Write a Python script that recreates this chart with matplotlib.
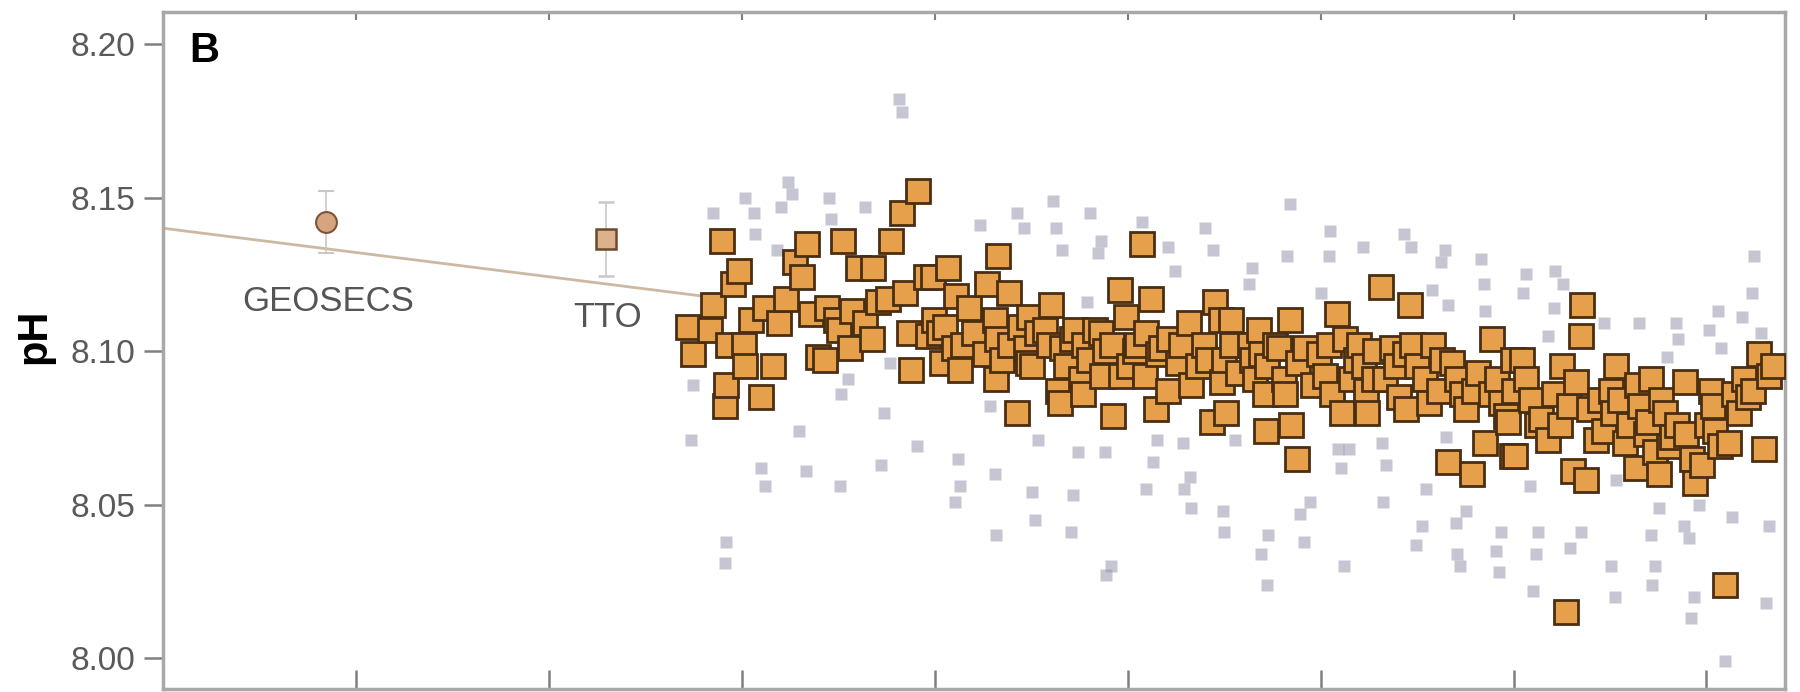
import matplotlib
matplotlib.use("Agg")
import matplotlib.pyplot as plt

# 字体：窄体无衬线
plt.rcParams["font.family"] = ["Liberation Sans Narrow", "Liberation Sans", "DejaVu Sans"]

# BATS pH (orange squares)
bats_t = [
    1990.89, 1990.98, 1991.34, 1991.41, 1991.58, 1991.65, 1991.67, 1991.72, 1991.82, 1991.94,
    1992.05, 1992.07, 1992.20, 1992.39, 1992.48, 1992.65, 1992.77, 1992.91, 1993.10, 1993.25,
    1993.36, 1993.44, 1993.58, 1993.72, 1993.77, 1993.96, 1994.01, 1994.10, 1994.25, 1994.29,
    1994.41, 1994.55, 1994.70, 1994.72, 1994.82, 1995.03, 1995.10, 1995.32, 1995.39, 1995.46,
    1995.51, 1995.65, 1995.82, 1995.86, 1995.98, 1995.96, 1996.08, 1996.15, 1996.22, 1996.27,
    1996.39, 1996.44, 1996.53, 1996.58, 1996.70, 1996.82, 1997.05, 1997.08, 1997.24, 1997.26,
    1997.29, 1997.32, 1997.39, 1997.53, 1997.55, 1997.70, 1997.77, 1997.89, 1997.94, 1997.96,
    1998.01, 1998.13, 1998.29, 1998.36, 1998.41, 1998.56, 1998.60, 1998.63, 1998.72, 1998.84,
    1998.91, 1999.03, 1999.08, 1999.10, 1999.20, 1999.32, 1999.44, 1999.46, 1999.53, 1999.67,
    1999.70, 1999.84, 1999.87, 1999.96, 2000.03, 2000.15, 2000.20, 2000.29, 2000.36, 2000.38,
    2000.48, 2000.58, 2000.63, 2000.70, 2000.84, 2000.86, 2001.05, 2001.10, 2001.27, 2001.32,
    2001.46, 2001.58, 2001.67, 2001.75, 2001.82, 2001.94, 2001.96, 2001.99, 2002.03, 2002.15,
    2002.17, 2002.29, 2002.53, 2002.58, 2002.65, 2002.72, 2002.77, 2002.84, 2002.86, 2002.89,
    2003.05, 2003.13, 2003.25, 2003.27, 2003.37, 2003.39, 2003.51, 2003.53, 2003.67, 2003.84,
    2003.96, 2004.10, 2004.18, 2004.23, 2004.34, 2004.44, 2004.51, 2004.63, 2004.73, 2004.80,
    2004.91, 2004.94, 2004.96, 2005.10, 2005.13, 2005.25, 2005.34, 2005.48, 2005.56, 2005.63,
    2005.75, 2005.77, 2005.86, 2005.89, 2005.99, 2006.17, 2006.25, 2006.34, 2006.46, 2006.51,
    2006.65, 2006.72, 2006.82, 2006.94, 2007.01, 2007.13, 2007.18, 2007.27, 2007.41, 2007.53,
    2007.56, 2007.65, 2007.75, 2007.84, 2007.89, 2007.96, 2007.98, 2008.01, 2008.04, 2008.18,
    2008.25, 2008.37, 2008.48, 2008.58, 2008.72, 2008.84, 2008.96, 2009.01, 2009.08, 2009.15,
    2009.23, 2009.30, 2009.39, 2009.42, 2009.51, 2009.56, 2009.70, 2009.79, 2009.87, 2010.03,
    2010.06, 2010.13, 2010.20, 2010.32, 2010.39, 2010.53, 2010.55, 2010.63, 2010.75, 2010.79,
    2010.86, 2010.94, 2011.01, 2011.05, 2011.15, 2011.22, 2011.29, 2011.39, 2011.56, 2011.58,
    2011.70, 2011.77, 2011.91, 2012.01, 2012.10, 2012.13, 2012.17, 2012.29, 2012.39, 2012.46,
    2012.58, 2012.67, 2012.77, 2012.86, 2012.96, 2013.08, 2013.20, 2013.29, 2013.37,
]
bats_ph = [
    8.108, 8.099, 8.107, 8.115, 8.136, 8.082, 8.089, 8.102, 8.122, 8.126,
    8.102, 8.095, 8.110, 8.085, 8.114, 8.095, 8.109, 8.117, 8.129, 8.124,
    8.135, 8.112, 8.098, 8.097, 8.114, 8.110, 8.107, 8.136, 8.101, 8.113,
    8.127, 8.109, 8.104, 8.127, 8.116, 8.117, 8.136, 8.145, 8.119, 8.106,
    8.094, 8.152, 8.124, 8.105, 8.110, 8.124, 8.106, 8.096, 8.108, 8.127,
    8.101, 8.118, 8.094, 8.102, 8.114, 8.106, 8.099, 8.122, 8.110, 8.091,
    8.104, 8.131, 8.097, 8.119, 8.102, 8.080, 8.108, 8.101, 8.096, 8.111,
    8.095, 8.106, 8.107, 8.102, 8.115, 8.087, 8.083, 8.101, 8.095, 8.104,
    8.107, 8.091, 8.086, 8.102, 8.097, 8.107, 8.106, 8.092, 8.100, 8.102,
    8.079, 8.120, 8.092, 8.111, 8.095, 8.100, 8.102, 8.135, 8.092, 8.106,
    8.117, 8.081, 8.099, 8.101, 8.087, 8.104, 8.096, 8.102, 8.109, 8.089,
    8.095, 8.102, 8.097, 8.077, 8.116, 8.110, 8.090, 8.097, 8.080, 8.110,
    8.102, 8.093, 8.102, 8.097, 8.091, 8.107, 8.099, 8.086, 8.074, 8.095,
    8.102, 8.101, 8.091, 8.086, 8.110, 8.076, 8.065, 8.096, 8.101, 8.089,
    8.099, 8.092, 8.102, 8.086, 8.112, 8.080, 8.104, 8.091, 8.097, 8.102,
    8.095, 8.087, 8.080, 8.091, 8.100, 8.121, 8.091, 8.101, 8.095, 8.085,
    8.099, 8.081, 8.115, 8.102, 8.095, 8.091, 8.083, 8.102, 8.087, 8.097,
    8.064, 8.096, 8.091, 8.086, 8.081, 8.060, 8.087, 8.093, 8.070, 8.086,
    8.104, 8.091, 8.083, 8.079, 8.077, 8.066, 8.097, 8.087, 8.066, 8.097,
    8.091, 8.084, 8.076, 8.078, 8.071, 8.086, 8.076, 8.095, 8.015, 8.082,
    8.061, 8.090, 8.105, 8.115, 8.058, 8.081, 8.071, 8.084, 8.074, 8.087,
    8.080, 8.095, 8.084, 8.070, 8.076, 8.062, 8.089, 8.082, 8.073, 8.077,
    8.091, 8.067, 8.060, 8.084, 8.080, 8.069, 8.072, 8.076, 8.090, 8.073,
    8.065, 8.057, 8.063, 8.076, 8.087, 8.082, 8.074, 8.069, 8.024, 8.070,
    8.086, 8.080, 8.091, 8.085, 8.087, 8.099, 8.068, 8.092, 8.095,
]

# other cruise data (faint grey points)
other_t = [
    1995.25, 1995.32, 1992.96, 1993.04, 1992.06, 1992.25, 1992.27, 1992.82, 1993.80, 1993.84,
    1994.56, 1991.41, 1992.72, 1990.99, 1990.94, 1993.18, 1992.39, 1992.49, 1993.32, 1994.04,
    1994.89, 1994.94, 1995.63, 1994.20, 1994.06, 1991.68, 1991.65, 1995.08,
    1998.46, 1997.70, 1996.94, 1997.84, 1998.51, 1999.22, 1999.44, 1998.63, 1999.39, 2000.29,
    2000.84, 2000.98, 2001.60, 2001.77, 1999.15, 1997.15, 1998.15, 1996.48, 1997.25, 1996.53,
    1996.41, 1998.01, 1998.87, 1998.98, 1999.53, 1998.08, 1997.27, 1998.82, 1999.65, 1999.56,
    2000.39, 2000.60, 2000.53, 2001.15, 2001.29, 2001.32, 2001.98, 2002.00, 2001.17,
    2003.37, 2004.20, 2004.18, 2003.30, 2002.58, 2004.87, 2005.73, 2005.87, 2006.58, 2006.49,
    2007.32, 2007.39, 2006.65, 2006.30, 2007.41, 2002.51, 2004.01, 2002.22, 2004.37, 2004.58,
    2004.42, 2005.27, 2005.36, 2005.29, 2003.79, 2003.58, 2003.65, 2002.91, 2002.77, 2002.89,
    2004.48, 2006.18, 2006.10, 2005.98, 2007.01, 2006.80, 2006.82, 2006.89, 2007.75, 2007.63,
    2007.70, 2006.61,
    2012.99, 2012.94, 2012.23, 2012.73, 2013.13, 2012.06, 2011.37, 2011.42, 2011.18, 2010.60,
    2012.30, 2009.87, 2008.25, 2008.20, 2008.87, 2009.03, 2008.84, 2008.72, 2008.34, 2008.51,
    2008.46, 2009.39, 2009.17, 2008.41, 2010.03, 2010.11, 2010.13, 2010.94, 2010.87, 2010.85,
    2011.01, 2011.63, 2011.53, 2011.85, 2011.75, 2011.68, 2012.54, 2013.30, 2013.23, 2012.39,
]
other_ph = [
    8.182, 8.178, 8.155, 8.151, 8.150, 8.145, 8.138, 8.147, 8.150, 8.143,
    8.147, 8.145, 8.133, 8.089, 8.071, 8.074, 8.062, 8.056, 8.061, 8.056,
    8.063, 8.080, 8.069, 8.091, 8.086, 8.038, 8.031, 8.096,
    8.149, 8.145, 8.141, 8.140, 8.140, 8.145, 8.136, 8.133, 8.132, 8.142,
    8.134, 8.126, 8.140, 8.133, 8.116, 8.082, 8.071, 8.065, 8.060, 8.056,
    8.051, 8.054, 8.053, 8.067, 8.067, 8.045, 8.040, 8.041, 8.030, 8.027,
    8.055, 8.071, 8.064, 8.070, 8.059, 8.049, 8.048, 8.041, 8.055,
    8.148, 8.139, 8.131, 8.131, 8.127, 8.134, 8.138, 8.134, 8.133, 8.129,
    8.130, 8.122, 8.115, 8.120, 8.113, 8.122, 8.119, 8.071, 8.068, 8.068,
    8.062, 8.070, 8.063, 8.051, 8.051, 8.047, 8.038, 8.040, 8.034, 8.024,
    8.030, 8.055, 8.043, 8.037, 8.048, 8.044, 8.034, 8.030, 8.041, 8.035,
    8.028, 8.072,
    8.131, 8.119, 8.113, 8.111, 8.106, 8.107, 8.109, 8.104, 8.098, 8.109,
    8.101, 8.109, 8.125, 8.119, 8.126, 8.122, 8.114, 8.105, 8.056, 8.041,
    8.034, 8.041, 8.036, 8.022, 8.030, 8.020, 8.058, 8.030, 8.024, 8.040,
    8.049, 8.039, 8.043, 8.050, 8.020, 8.013, 8.046, 8.043, 8.018, 7.999,
]

# GEOSECS / TTO
geosecs_t, geosecs_ph, geosecs_err = 1983.38, 8.142, 0.010
tto_t, tto_ph, tto_err = 1989.19, 8.1365, 0.012

# trend line back to the start
trend_t = [1980.0, 1991.14]
trend_ph = [8.140, 8.118]

x_ticks = [1984, 1988, 1992, 1996, 2000, 2004, 2008, 2012]
y_ticks = [8.00, 8.05, 8.10, 8.15, 8.20]

fig = plt.figure(figsize=(18, 6.92), dpi=100)
ax = fig.add_axes([0.0906, 0.0043, 0.9011, 0.9784])

ax.plot(trend_t, trend_ph, color="#cbb9a2", lw=2, zorder=2)
ax.plot(other_t, other_ph, ls="none", marker="s", ms=8, color="#8e8ea6",
        alpha=0.5, mec="none", zorder=1)
ax.plot(bats_t, bats_ph, ls="none", marker="s", ms=17, mfc="#e6a04c",
        mec="#4a2e12", mew=2.0, zorder=3)

ax.errorbar([geosecs_t], [geosecs_ph], yerr=[geosecs_err], fmt="o", ms=15,
            mfc="#d6a47e", mec="#7a5638", mew=1.5, ecolor="#c8c8c8", elinewidth=1.2,
            capsize=6, zorder=4)
ax.errorbar([tto_t], [tto_ph], yerr=[tto_err], fmt="s", ms=15,
            mfc="#dcb28c", mec="#6a4a2c", mew=1.8, ecolor="#c8c8c8", elinewidth=1.2,
            capsize=6, zorder=4)

ax.text(1983.42, 8.116, "GEOSECS", fontsize=25, color="#555555", ha="center", va="center")
ax.text(1989.21, 8.1108, "TTO", fontsize=25, color="#555555", ha="center", va="center")
ax.text(0.0253, 0.942, "B", transform=ax.transAxes, fontsize=30, fontweight="bold",
        ha="center", va="center", color="black")
fig.text(0.0189, 0.514, "pH", rotation=90, fontsize=30, fontweight="bold",
         ha="center", va="center")

ax.set_xlim(1980, 2013.63)
ax.set_ylim(7.990, 8.2104)
ax.set_xticks(x_ticks)
ax.set_xticklabels([])
ax.set_yticks(y_ticks)
ax.set_yticklabels(["%.2f" % v for v in y_ticks])

for s in ax.spines.values():
    s.set_color("#a8a8a8")
    s.set_linewidth(2.5)
ax.tick_params(axis="y", direction="out", length=14, width=1.8, color="#808080",
               labelsize=24, labelcolor="#5a5a5a", pad=6)
ax.tick_params(axis="x", direction="in", length=14, width=1.8, color="#808080",
               bottom=True, top=False)

# 顶部短刻度
top = ax.secondary_xaxis("top")
top.set_xticks(x_ticks)
top.set_xticklabels([])
top.tick_params(direction="in", length=6, width=1.5, color="#808080")
top.spines["top"].set_visible(False)

fig.savefig("out.png", dpi=100)
